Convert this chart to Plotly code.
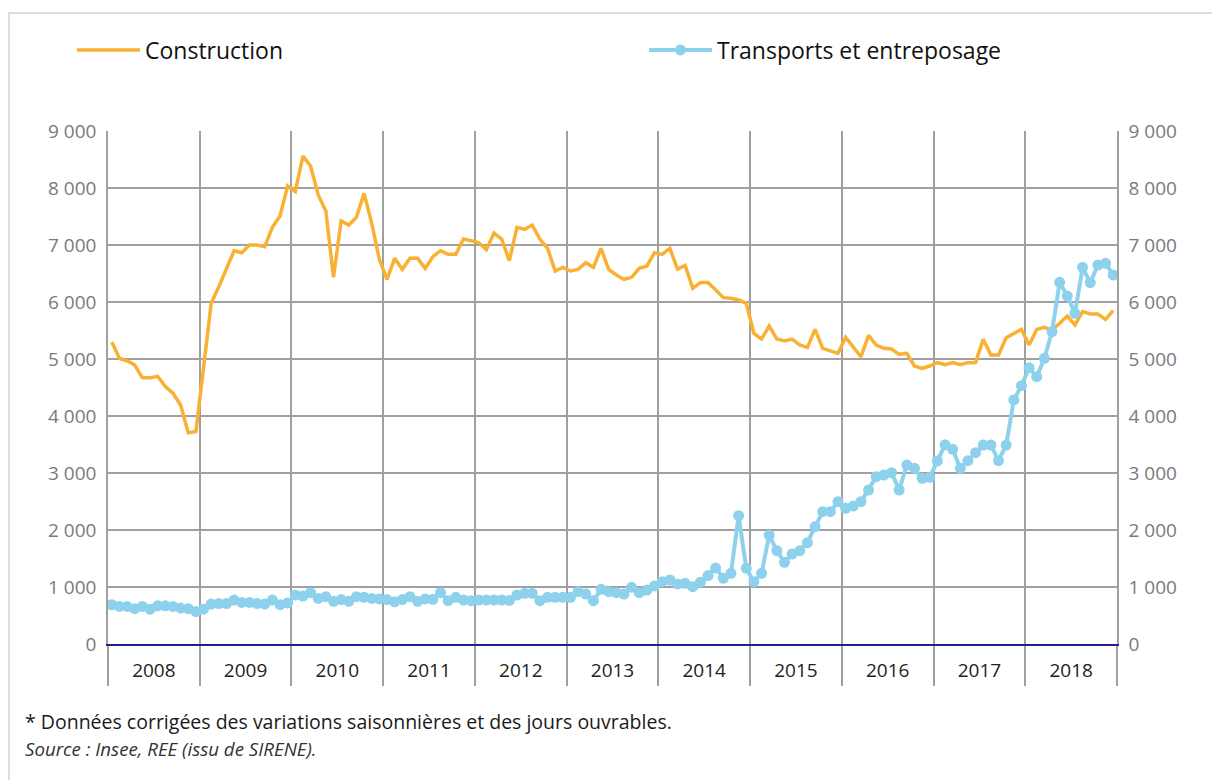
import plotly.graph_objects as go

years = ["2008", "2009", "2010", "2011", "2012", "2013", "2014", "2015", "2016", "2017", "2018"]

construction = [
    5300, 5010, 4970, 4895, 4670, 4670, 4695, 4515, 4400, 4193, 3707, 3730,
    4850, 5977, 6270, 6590, 6900, 6865, 7000, 7000, 6970, 7310, 7510, 8035,
    7940, 8560, 8385, 7877, 7596, 6433, 7420, 7350, 7485, 7906, 7380, 6748,
    6398, 6766, 6573, 6766, 6766, 6590, 6795, 6900, 6836, 6836, 7105, 7076,
    7040, 6918, 7210, 7105, 6725, 7310, 7275, 7350, 7105, 6942, 6544, 6608,
    6544, 6573, 6690, 6608, 6942, 6573, 6474, 6398, 6433, 6590, 6632, 6865,
    6836, 6942, 6576, 6640, 6240, 6340, 6340, 6210, 6076, 6064, 6035, 5977,
    5450, 5350, 5580, 5350, 5315, 5350, 5245, 5205, 5520, 5187, 5146, 5099,
    5380, 5216, 5040, 5415, 5245, 5187, 5175, 5082, 5099, 4877, 4836, 4877,
    4936, 4900, 4936, 4900, 4936, 4940, 5345, 5070, 5070, 5374, 5450, 5520,
    5245, 5520, 5556, 5509, 5626, 5754, 5597, 5830, 5790, 5790, 5696, 5848,
]

transports = [
    690, 660, 660, 620, 660, 610, 670, 670, 660, 630, 620, 570,
    610, 700, 710, 710, 770, 730, 730, 710, 700, 770, 690, 720,
    860, 840, 900, 800, 830, 750, 780, 750, 830, 820, 800, 790,
    780, 740, 780, 830, 750, 790, 784, 900, 760, 819, 772, 760,
    772, 772, 772, 772, 765, 859, 889, 889, 760, 819, 819, 819,
    819, 918, 877, 760, 959, 918, 900, 877, 994, 900, 947, 1018,
    1094, 1123, 1053, 1064, 1006, 1085, 1200, 1333, 1152, 1240, 2251, 1327,
    1094, 1240, 1912, 1637, 1433, 1579, 1637, 1778, 2058, 2322, 2322, 2497,
    2380, 2421, 2497, 2702, 2936, 2965, 3006, 2702, 3140, 3082, 2906, 2924,
    3211, 3497, 3415, 3082, 3216, 3357, 3491, 3491, 3216, 3491, 4281, 4532,
    4848, 4690, 5012, 5480, 6345, 6105, 5801, 6608, 6339, 6649, 6678, 6474,
]

y_ticks = [0, 1000, 2000, 3000, 4000, 5000, 6000, 7000, 8000, 9000]

n = len(construction)
months = list(range(n))
year_centers = [12 * k + 5.5 for k in range(len(years))]
year_bounds = [12 * k - 0.5 for k in range(len(years) + 1)]

ORANGE = "#F8B133"
BLUE = "#8DD1EC"
GRID = "#A0A0A0"
FONT = "Open Sans"
W, H = 1220, 780

fig = go.Figure()
fig.add_trace(go.Scatter(
    x=months, y=construction, name="Construction", mode="lines",
    line=dict(color=ORANGE, width=3.5), legend="legend",
))
fig.add_trace(go.Scatter(
    x=months, y=transports, name="Transports et entreposage", mode="lines+markers",
    line=dict(color=BLUE, width=4), marker=dict(color=BLUE, size=11), legend="legend2",
))
# carrier for the right-hand axis (invisible)
fig.add_trace(go.Scatter(
    x=[months[0]], y=[y_ticks[0]], yaxis="y2", mode="markers",
    marker=dict(opacity=0), showlegend=False, hoverinfo="skip",
))

legend_common = dict(
    orientation="h", xref="container", yref="container",
    xanchor="left", yanchor="middle", y=1 - 42 / H,
    font=dict(size=23, color="#111111"), bgcolor="rgba(0,0,0,0)",
    itemwidth=63,
)

fig.update_layout(
    width=W, height=H,
    margin=dict(l=100, r=111, t=123, b=144),
    paper_bgcolor="white", plot_bgcolor="white",
    font=dict(family=FONT, color="#222222"),
    separators=", ",
    showlegend=True,
    legend=dict(x=64 / W, **legend_common),
    legend2=dict(x=636 / W, **legend_common),
    xaxis=dict(
        range=[-0.5, n - 0.5],
        tickmode="array", tickvals=year_centers, ticktext=years,
        ticks="outside", ticklen=8, tickcolor="rgba(0,0,0,0)",
        showgrid=False, zeroline=False,
        tickfont=dict(size=19, color="#222222"),
        showline=True, linecolor="#1F1F8F", linewidth=2,
        minor=dict(tickmode="array", tickvals=year_bounds, ticks="outside",
                   ticklen=40, tickcolor=GRID, tickwidth=1.5,
                   showgrid=True, gridcolor=GRID, gridwidth=1.5),
        fixedrange=True,
    ),
    yaxis=dict(
        range=[0, 9000], tickmode="array", tickvals=y_ticks,
        tickformat=",d", showgrid=True, gridcolor=GRID, gridwidth=1.5,
        zeroline=False, showline=True, linecolor=GRID, linewidth=1.5,
        ticks="outside", ticklen=6, tickcolor="rgba(0,0,0,0)",
        tickfont=dict(size=19, color="#7A7A7A"),
    ),
    yaxis2=dict(
        range=[0, 9000], tickmode="array", tickvals=y_ticks,
        tickformat=",d", overlaying="y", side="right", anchor="x",
        showgrid=False, zeroline=False, showline=True, linecolor=GRID, linewidth=1.5,
        ticks="outside", ticklen=6, tickcolor="rgba(0,0,0,0)",
        tickfont=dict(size=19, color="#7A7A7A"),
    ),
)

# frame around the whole graphic
fig.add_shape(type="rect", xref="paper", yref="paper",
              x0=(9 - 108) / 1009, x1=(1240 - 108) / 1009,
              y0=(644 - 800) / 513, y1=(644 - 13) / 513,
              line=dict(color="#DCDCDC", width=2), layer="below")

fig.add_annotation(xref="paper", yref="paper", x=(23 - 108) / 1009, y=(644 - 722) / 513,
                   xanchor="left", yanchor="middle", showarrow=False,
                   text="* Données corrigées des variations saisonnières et des jours ouvrables.",
                   font=dict(size=19.5, color="#1A1A1A", family=FONT))
fig.add_annotation(xref="paper", yref="paper", x=(23 - 108) / 1009, y=(644 - 748) / 513,
                   xanchor="left", yanchor="middle", showarrow=False,
                   text="<i>Source : Insee, REE (issu de SIRENE).</i>",
                   font=dict(size=18.7, color="#333333", family=FONT))

fig.write_html("out.html")
